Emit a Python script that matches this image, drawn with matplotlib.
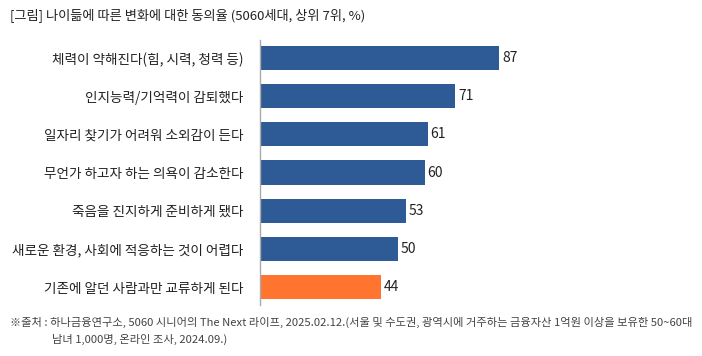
import matplotlib
matplotlib.use('Agg')
import matplotlib.pyplot as plt

plt.rcParams['font.family'] = ['Noto Sans CJK KR', 'DejaVu Sans']

categories = ['체력이 약해진다(힘, 시력, 청력 등)',
              '인지능력/기억력이 감퇴했다',
              '일자리 찾기가 어려워 소외감이 든다',
              '무언가 하고자 하는 의욕이 감소한다',
              '죽음을 진지하게 준비하게 됐다',
              '새로운 환경, 사회에 적응하는 것이 어렵다',
              '기존에 알던 사람과만 교류하게 된다']
values = [87, 71, 61, 60, 53, 50, 44]
colors = ['#2E5A96'] * 6 + ['#FF7530']

title = '[그림] 나이듦에 따른 변화에 대한 동의율 (5060세대, 상위 7위, %)'
source1 = '※출처 : 하나금융연구소, 5060 시니어의 The Next 라이프, 2025.02.12.(서울 및 수도권, 광역시에 거주하는 금융자산 1억원 이상을 보유한 50~60대'
source2 = '남녀 1,000명, 온라인 조사, 2024.09.)'

fig = plt.figure(figsize=(7.02, 3.56), dpi=100)
ax = fig.add_axes([260 / 702, 1 - 305 / 356, 440 / 702, 265 / 356])

y = list(range(len(values)))
ax.barh(y, values, height=0.63, color=colors)
for yi, v in zip(y, values):
    ax.text(v + 1, yi, str(v), va='center', ha='left', fontsize=10, color='#222222')

ax.set_xlim(0, 160)
ax.set_ylim(6.47, -0.47)
ax.set_yticks(y)
ax.set_yticklabels(categories, fontsize=9.8, color='#222222')
ax.tick_params(axis='y', length=0, pad=12)
ax.set_xticks([])
for s in ['top', 'right', 'bottom']:
    ax.spines[s].set_visible(False)
ax.spines['left'].set_color('#aaaaaa')
ax.spines['left'].set_linewidth(1)

fig.text(10 / 702, 1 - 15 / 356, title, fontsize=9.5, va='center', ha='left', color='#222222')
fig.text(10 / 702, 1 - 322 / 356, source1, fontsize=8.1, va='center', ha='left', color='#444444')
fig.text(52 / 702, 1 - 339 / 356, source2, fontsize=8.1, va='center', ha='left', color='#444444')

fig.savefig('out.png', dpi=100)
